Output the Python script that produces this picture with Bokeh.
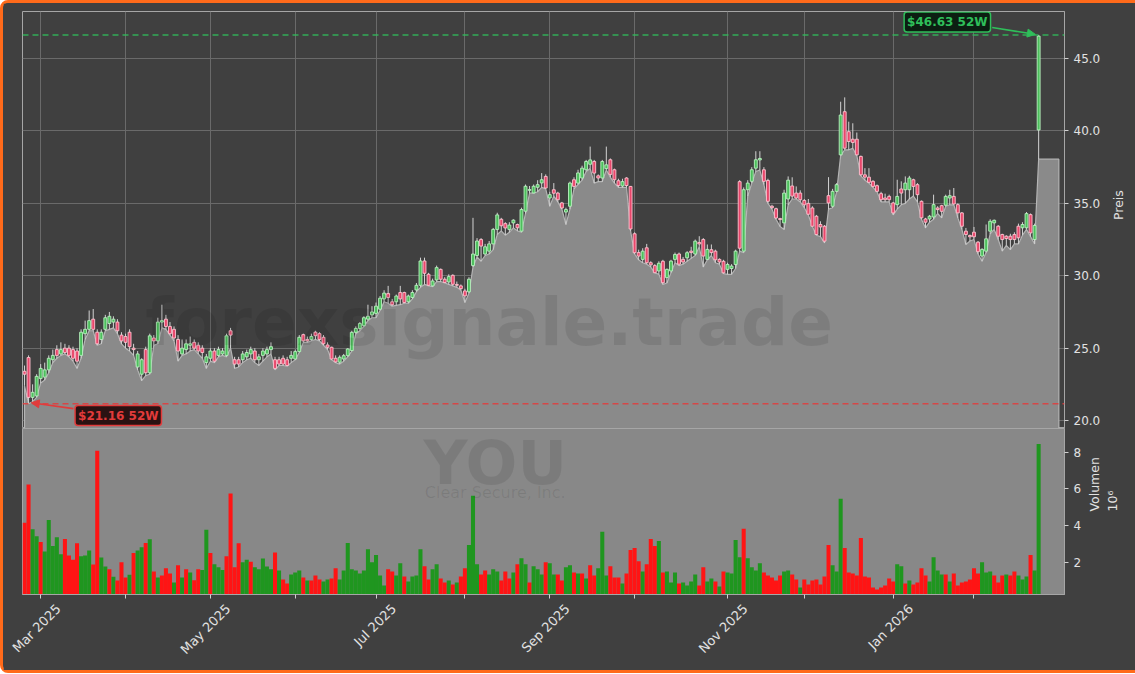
import math
import pandas as pd
from bokeh.plotting import figure
from bokeh.layouts import column
from bokeh.models import (Range1d, FixedTicker, Grid, Span, Label, Arrow, NormalHead, LinearAxis,
                          ColumnDataSource, CustomJSTickFormatter)
from bokeh.embed import file_html
from bokeh.resources import INLINE

# ---------------- data ----------------
opens = [23.4, 24.35, 21.6, 21.7, 22.9, 23.0, 23.5, 24.2, 24.9, 24.6,
         25.0, 25.0, 24.9, 24.8, 24.5, 26.0, 26.3, 27.0, 26.1, 25.6,
         26.3, 26.7, 26.8, 26.8, 25.9, 25.8, 26.1, 25.0, 23.7, 23.2,
         24.9, 23.3, 25.7, 25.5, 26.8, 27.0, 26.5, 26.3, 25.6, 24.6,
         24.9, 25.2, 25.4, 25.2, 25.0, 24.0, 24.3, 24.8, 24.5, 24.6,
         24.5, 26.2, 24.2, 24.2, 24.2, 24.4, 24.6, 24.8, 24.2, 24.5,
         24.6, 24.9, 24.2, 24.2, 24.3, 24.2, 24.3, 24.25, 24.76, 25.93,
         25.6, 25.6, 26.1, 26.0, 25.75, 25.22, 25.06, 24.3, 24.03, 24.25,
         24.48, 24.83, 26.09, 26.36, 26.55, 27.0, 27.3, 27.4, 27.69, 28.4,
         28.77, 28.2, 28.2, 28.84, 28.84, 28.2, 28.5, 29.02, 29.34, 31.02,
         30.1, 29.3, 29.71, 30.44, 29.76, 29.57, 30.03, 29.4, 29.3, 28.95,
         28.89, 30.7, 31.4, 32.5, 31.5, 31.7, 32.2, 33.2, 33.9, 33.6,
         33.2, 33.65, 33.54, 33.08, 34.46, 35.9, 35.72, 36.11, 36.41, 36.86,
         35.37, 35.94, 35.71, 35.03, 34.4, 34.8, 36.63, 36.4, 36.75, 37.32,
         37.7, 37.89, 36.9, 36.75, 37.4, 38.01, 37.32, 36.56, 36.2, 36.75,
         36.17, 32.9, 31.6, 31.13, 31.93, 30.9, 30.7, 30.33, 31.0, 29.87,
         30.33, 31.13, 31.5, 31.13, 31.24, 31.7, 31.5, 32.3, 32.5, 31.13,
         31.8, 31.7, 31.13, 31.0, 30.44, 30.5, 30.78, 36.5, 31.7, 35.94,
         36.52, 37.43, 38.0, 37.32, 36.58, 34.8, 34.63, 33.95, 33.65, 35.3,
         36.2, 35.71, 35.71, 35.2, 35.0, 34.68, 34.11, 33.54, 33.42, 35.53,
         34.8, 35.83, 38.35, 41.33, 39.95, 39.43, 39.43, 38.24, 36.97, 36.81,
         36.52, 36.22, 35.67, 35.37, 35.48, 35.03, 34.91, 35.99, 35.94, 35.94,
         36.63, 36.29, 35.14, 33.92, 33.92, 34.06, 34.68, 34.84, 34.87, 35.37,
         35.48, 34.91, 34.34, 33.08, 32.78, 33.01, 32.32, 31.36, 31.7, 33.08,
         33.65, 33.42, 32.85, 32.73, 32.73, 32.85, 33.42, 33.31, 33.31, 34.22,
         32.5, 40.07]
highs = [23.8, 24.5, 22.5, 23.2, 23.9, 24.0, 24.5, 24.9, 25.2, 25.4,
         25.3, 25.2, 25.1, 25.0, 26.3, 26.9, 27.6, 27.7, 26.3, 26.3,
         27.3, 27.5, 27.2, 27.0, 26.1, 26.0, 26.3, 25.3, 24.8, 24.3,
         25.1, 26.0, 25.9, 27.1, 28.0, 27.3, 26.8, 26.5, 25.9, 25.6,
         25.6, 25.8, 25.6, 25.4, 25.2, 24.6, 25.0, 25.0, 25.1, 25.0,
         26.0, 26.4, 24.4, 24.4, 24.8, 24.9, 25.1, 25.0, 24.6, 25.0,
         25.1, 25.4, 24.4, 24.4, 24.5, 24.4, 24.8, 24.9, 25.9, 26.0,
         25.8, 26.0, 26.2, 26.1, 25.9, 25.4, 25.1, 24.5, 24.5, 24.6,
         25.0, 26.2, 26.5, 26.8, 27.2, 28.0, 27.9, 28.15, 28.6, 29.0,
         29.3, 28.4, 28.7, 29.3, 28.9, 28.7, 29.0, 29.5, 31.25, 31.25,
         30.2, 29.8, 30.7, 30.5, 29.9, 30.1, 30.1, 29.6, 29.4, 29.1,
         29.9, 34.0, 32.6, 32.6, 32.2, 32.4, 33.3, 34.35, 34.0, 33.7,
         33.7, 33.9, 33.6, 34.7, 36.3, 36.2, 36.3, 36.6, 37.09, 37.0,
         35.8, 36.4, 35.8, 35.1, 34.7, 36.5, 36.8, 37.32, 37.6, 38.0,
         38.92, 38.0, 37.0, 38.0, 38.92, 38.1, 37.4, 36.7, 36.7, 36.8,
         36.2, 33.0, 31.8, 31.9, 32.2, 31.0, 30.8, 31.0, 31.1, 30.5,
         31.1, 31.6, 31.6, 31.3, 31.7, 32.0, 32.5, 32.73, 32.6, 32.16,
         32.16, 31.8, 31.2, 31.1, 30.9, 30.8, 31.8, 36.6, 36.1, 36.6,
         37.5, 38.6, 38.6, 37.5, 36.7, 34.9, 34.7, 34.0, 35.94, 36.86,
         36.8, 36.17, 35.9, 35.3, 35.3, 34.8, 34.2, 33.76, 33.5, 36.81,
         36.0, 36.4, 42.02, 42.32, 40.64, 40.53, 39.89, 38.3, 37.43, 37.43,
         36.6, 36.3, 35.8, 35.67, 35.6, 35.1, 36.63, 36.52, 36.86, 36.9,
         36.7, 36.4, 35.2, 34.0, 34.2, 35.6, 34.8, 34.9, 35.6, 35.94,
         36.06, 35.0, 34.4, 33.3, 32.85, 33.37, 32.4, 31.9, 33.54, 33.9,
         33.88, 33.5, 32.9, 32.8, 32.9, 33.0, 33.6, 33.7, 34.4, 34.3,
         33.6, 46.63]
lows = [22.4, 21.16, 21.3, 21.6, 22.6, 22.8, 23.3, 24.0, 24.3, 24.5,
        24.6, 24.4, 24.1, 23.6, 24.3, 25.6, 26.2, 26.2, 25.2, 25.3,
        26.2, 26.3, 26.4, 26.0, 25.3, 25.0, 24.8, 24.5, 23.5, 22.75,
        23.1, 23.2, 25.2, 25.3, 26.4, 26.3, 25.9, 25.5, 24.1, 24.5,
        24.6, 24.8, 24.9, 24.6, 24.3, 23.6, 24.1, 24.0, 24.4, 24.5,
        24.4, 25.0, 23.6, 23.7, 24.0, 24.2, 24.3, 24.0, 23.8, 24.1,
        24.4, 24.6, 23.5, 23.8, 23.8, 23.75, 24.0, 24.2, 24.7, 25.4,
        25.4, 25.5, 25.6, 25.5, 25.2, 24.9, 24.2, 24.0, 23.9, 24.1,
        24.4, 24.8, 26.0, 26.2, 26.5, 26.9, 27.1, 27.1, 27.6, 28.2,
        28.1, 27.9, 27.95, 28.0, 28.1, 28.1, 28.4, 28.9, 29.2, 29.4,
        29.3, 29.25, 29.6, 29.6, 29.5, 29.4, 29.3, 29.2, 29.0, 28.15,
        28.8, 30.6, 31.3, 31.0, 31.4, 31.5, 31.8, 32.85, 33.1, 32.8,
        33.0, 33.3, 33.1, 33.0, 34.3, 35.7, 35.7, 35.8, 36.1, 36.0,
        34.8, 35.5, 35.1, 34.6, 33.54, 34.6, 36.0, 36.3, 36.6, 37.2,
        37.4, 36.4, 36.5, 36.5, 37.3, 36.8, 36.4, 36.1, 36.1, 36.1,
        33.1, 31.5, 31.1, 30.9, 30.8, 30.6, 30.2, 30.1, 29.4, 29.5,
        30.2, 30.9, 30.7, 30.8, 31.0, 31.2, 31.4, 32.0, 30.6, 31.1,
        31.4, 30.9, 30.8, 30.15, 30.1, 30.1, 30.5, 31.7, 31.6, 35.5,
        36.4, 37.2, 37.3, 36.3, 35.0, 34.6, 33.9, 33.4, 33.19, 34.9,
        35.3, 35.3, 35.1, 34.7, 34.2, 33.4, 32.8, 32.7, 32.27, 34.6,
        34.7, 35.8, 38.3, 38.7, 38.7, 38.8, 38.3, 36.9, 36.6, 36.4,
        36.1, 35.8, 35.1, 35.1, 35.1, 34.2, 34.6, 34.9, 35.0, 35.3,
        35.5, 35.1, 33.9, 33.3, 33.7, 33.9, 34.3, 34.0, 34.8, 34.9,
        34.9, 34.0, 33.2, 32.16, 32.4, 32.5, 31.5, 31.0, 31.6, 32.9,
        33.2, 32.5, 31.7, 32.1, 31.8, 32.2, 32.2, 32.8, 33.2, 32.7,
        32.2, 38.05]
closes = [23.2, 21.6, 21.95, 23.05, 23.6, 23.5, 24.3, 24.5, 24.5, 24.9,
          24.7, 24.5, 24.3, 24.1, 26.1, 26.3, 26.9, 26.3, 25.3, 26.1,
          27.1, 27.2, 27.0, 26.2, 25.5, 25.4, 25.1, 24.9, 24.6, 24.2,
          23.3, 25.85, 25.5, 26.8, 26.9, 26.5, 26.0, 25.7, 24.8, 25.0,
          25.3, 25.3, 25.0, 24.8, 24.7, 24.4, 24.8, 24.1, 24.9, 24.8,
          25.85, 25.9, 23.9, 23.9, 24.6, 24.7, 24.9, 24.2, 24.4, 24.8,
          24.9, 25.1, 23.6, 23.9, 23.9, 23.8, 24.5, 24.76, 25.75, 25.5,
          25.5, 25.8, 25.86, 25.6, 25.3, 25.06, 24.25, 24.05, 24.37, 24.48,
          24.94, 26.09, 26.36, 26.7, 27.1, 27.2, 27.5, 27.9, 28.45, 28.8,
          28.5, 28.0, 28.6, 28.4, 28.15, 28.6, 28.84, 29.34, 31.02, 30.17,
          29.34, 29.64, 30.56, 29.76, 29.53, 29.94, 29.41, 29.34, 29.11, 28.61,
          29.76, 31.5, 32.4, 32.05, 32.0, 32.2, 33.2, 34.2, 33.45, 33.3,
          33.5, 33.84, 33.31, 34.57, 36.18, 35.95, 36.18, 36.29, 36.63, 36.06,
          35.6, 35.7, 35.25, 34.68, 34.57, 36.4, 36.17, 37.1, 37.43, 37.89,
          38.0, 37.09, 36.75, 37.89, 37.66, 37.0, 36.63, 36.23, 36.5, 36.23,
          33.23, 31.59, 31.36, 31.7, 30.9, 30.75, 30.21, 30.86, 29.52, 30.44,
          31.01, 31.47, 30.8, 30.95, 31.59, 31.6, 32.39, 32.2, 31.36, 31.82,
          31.6, 31.1, 30.95, 30.2, 30.78, 30.67, 31.7, 31.9, 35.94, 36.4,
          37.32, 38.01, 38.1, 36.52, 35.14, 34.7, 33.99, 33.88, 35.71, 36.6,
          35.5, 35.37, 35.25, 34.9, 34.25, 33.42, 32.85, 33.37, 32.39, 35.03,
          35.83, 36.29, 41.1, 38.81, 39.27, 39.2, 38.35, 36.97, 36.81, 36.45,
          36.17, 35.83, 35.25, 35.25, 35.25, 34.34, 35.48, 35.71, 36.4, 36.75,
          36.17, 35.6, 34.0, 33.7, 34.11, 34.91, 34.57, 34.45, 35.48, 35.53,
          34.96, 34.34, 33.42, 32.85, 32.69, 32.69, 31.66, 31.82, 32.55, 33.76,
          33.83, 32.73, 32.5, 32.57, 32.5, 32.5, 32.62, 33.54, 34.29, 32.96,
          33.47, 46.55]
volume_m = [4.15, 6.24, 3.80, 3.42, 3.10, 2.59, 4.30, 2.88, 3.36, 2.44,
            3.27, 2.37, 2.14, 3.03, 2.33, 2.37, 2.64, 1.87, 8.08, 2.26,
            1.76, 1.61, 1.21, 1.00, 2.00, 1.17, 1.32, 2.50, 2.64, 2.81,
            3.05, 3.25, 1.50, 1.17, 1.28, 1.67, 1.39, 0.89, 1.83, 1.17,
            1.61, 1.44, 1.02, 1.61, 1.57, 3.77, 2.50, 1.89, 1.72, 1.57,
            2.33, 5.74, 1.72, 3.03, 2.00, 2.14, 2.03, 1.72, 1.61, 2.20,
            1.76, 1.61, 2.53, 1.55, 1.06, 0.84, 1.33, 1.44, 1.55, 1.17,
            1.00, 1.00, 1.28, 1.06, 0.95, 1.06, 1.11, 1.67, 1.06, 1.55,
            3.05, 1.61, 1.55, 1.39, 1.55, 2.71, 2.00, 2.39, 1.28, 0.73,
            1.61, 1.50, 1.28, 1.94, 1.22, 0.95, 1.22, 1.28, 2.71, 1.78,
            1.06, 1.61, 1.89, 1.11, 0.89, 1.00, 0.78, 0.89, 1.22, 1.67,
            2.94, 5.63, 1.89, 1.33, 1.55, 1.33, 1.61, 1.50, 1.00, 1.50,
            1.11, 1.44, 1.89, 2.22, 1.89, 0.89, 1.78, 1.61, 1.33, 2.00,
            1.94, 1.33, 1.33, 1.00, 1.72, 1.83, 1.44, 1.39, 1.39, 1.11,
            1.83, 1.28, 1.67, 3.66, 1.28, 1.78, 1.17, 1.17, 0.84, 1.39,
            2.66, 2.77, 2.05, 1.50, 1.89, 3.27, 2.88, 3.16, 1.44, 1.50,
            0.89, 1.44, 0.84, 0.89, 0.73, 0.95, 1.33, 0.73, 1.72, 0.95,
            1.11, 0.95, 0.67, 1.50, 1.44, 1.39, 3.21, 2.27, 3.82, 2.22,
            1.72, 1.55, 1.94, 1.44, 1.28, 1.17, 1.00, 1.28, 1.50, 1.55,
            1.33, 1.06, 0.62, 1.06, 0.78, 1.00, 1.06, 0.78, 1.22, 2.94,
            1.83, 1.50, 5.46, 2.77, 1.44, 1.39, 1.28, 3.32, 1.22, 1.17,
            0.62, 0.51, 0.62, 0.73, 1.11, 0.95, 1.89, 1.78, 0.84, 1.00,
            0.78, 0.89, 1.67, 1.28, 0.95, 2.27, 1.55, 1.33, 1.33, 0.95,
            1.39, 0.73, 0.89, 0.95, 1.06, 1.67, 1.39, 2.00, 1.44, 1.50,
            1.28, 0.89, 1.28, 1.33, 1.28, 1.50, 1.28, 1.06, 1.22, 2.39,
            1.55, 8.45]
volume_dir = list(
    "rrggrggggg" "rrrrgggrrg" "grgrrrgrgg" "rgrgrrrgrg" "rgrrggrggg"
    "rrrrggrggg" "ggrgrrgggr" "grrrggrrgg" "gggggggggg" "rrggrggggr"
    "rggrrgrgrr" "gggrrgggrr" "rgrggrgggr"
    "ggrrggrgrg" "rrgggrrrgr" "rrrgrrrgrg" "ggrggggrrg"
    "grgrggggrg" "gggrrrrrgg" "rrgrrrrrrr" "gggrrrrrrr"
    "rrrrrrggrg" "rrrrggggrg" "rrrrrrrggg" "rrrgrrgggr" "gg")
price_ticks = [20.0, 25.0, 30.0, 35.0, 40.0, 45.0]
volume_ticks_m = [2, 4, 6, 8]
label_months = [3, 5, 7, 9, 11, 1]
holidays = ["2025-04-18", "2025-05-26", "2025-06-19", "2025-07-04", "2025-09-01",
            "2025-11-27", "2025-12-25", "2026-01-01", "2026-01-19", "2026-02-16"]
company = "Clear Secure, Inc."
ticker_sym = "YOU"
watermark = "forexsignale.trade"

# ---------------- derived ----------------
n = len(closes)
dates = pd.bdate_range("2025-02-25", "2026-02-25", freq="C", holidays=holidays)[:n]
idx = list(range(n))
highs = [max(h, o, c) for h, o, c in zip(highs, opens, closes)]
lows = [min(l, o, c) for l, o, c in zip(lows, opens, closes)]
month_idx = [i for i in range(1, n) if dates[i].month != dates[i - 1].month]
lab_idx = [i for i in month_idx if dates[i].month in label_months]
lab_txt = [dates[i].strftime("%b %Y") for i in lab_idx]
LABEL_SHIFT = 4.4   # centres the rotated label on its tick (layout)

BG = "#404040"
FONT = "DejaVu Sans"
TXT = "#e2e2e2"
BULL_FILL, BULL_LINE = "#4cbf5c", "#b9f2c0"
BEAR_FILL, BEAR_LINE = "#e8476b", "#ffc2cf"

up = [c >= o for o, c in zip(opens, closes)]
src = ColumnDataSource(dict(
    x=idx, o=opens, h=highs, l=lows, c=closes,
    top=[max(o, c) for o, c in zip(opens, closes)],
    bot=[min(o, c) for o, c in zip(opens, closes)],
    fill=[BULL_FILL if u else BEAR_FILL for u in up],
    line=[BULL_LINE if u else BEAR_LINE for u in up],
))
vsrc = ColumnDataSource(dict(
    x=idx, v=[v * 1e6 for v in volume_m],
    col=["#1f961f" if d == "g" else "#ff1414" for d in volume_dir[:n]],
))

xr = Range1d(-0.5, n + 5.4)
FW = 1042
ML, MR = 19, 67

# ---------------- price panel ----------------
p1 = figure(frame_width=FW, frame_height=417, x_range=xr, y_range=Range1d(19.45, 48.25),
            y_axis_location="right", x_axis_location=None, toolbar_location=None,
            output_backend="svg", background_fill_color=BG, border_fill_color=BG,
            min_border_left=ML, min_border_right=MR, min_border_top=8, min_border_bottom=0,
            outline_line_color="#a6a6a6")
p1.xgrid.visible = False
p1.ygrid.grid_line_color = "#6a6a6a"
p1.ygrid.ticker = FixedTicker(ticks=price_ticks)
p1.add_layout(Grid(dimension=0, ticker=FixedTicker(ticks=month_idx), grid_line_color="#6a6a6a"))

ybot = 0.0
ext = n - 1 + 5
px = [0] + idx + [ext, ext, 0]
py = [ybot] + lows + [lows[-1], ybot, ybot]
p1.patch(px, py, fill_color="#8a8a8a", line_color="#b4b4b4", line_width=1.2)

p1.segment(x0="x", y0="l", x1="x", y1="h", source=src, line_color="#d2d2d2", line_width=1)
p1.vbar(x="x", width=0.72, top="top", bottom="bot", source=src,
        fill_color="fill", line_color="line", line_width=0.9)

hi = max(highs)
lo = min(lows)
hi_i = highs.index(hi)
lo_i = lows.index(lo)
GREEN = "#2fbf5a"
RED = "#e23b3b"
p1.add_layout(Span(location=hi, dimension="width", line_color=GREEN, line_dash="6 4",
                   line_width=1.5, line_alpha=0.85))
p1.add_layout(Span(location=lo, dimension="width", line_color=RED, line_dash="6 4",
                   line_width=1.5, line_alpha=0.85))

p1.add_layout(Label(x=(n - 1) / 2 - 10.5, y=26.8, text=watermark, text_font=FONT,
                    text_font_size="66px", text_font_style="bold", text_color="black",
                    text_alpha=0.09, text_align="center", text_baseline="middle"))

p1.add_layout(Arrow(x_start=hi_i - 11.5, y_start=hi + 0.52, x_end=hi_i - 0.8, y_end=hi + 0.04,
                    line_color=GREEN, line_width=1.6,
                    end=NormalHead(size=8, fill_color=GREEN, line_color=GREEN)))
p1.add_layout(Label(x=hi_i - 22.6, y=hi + 0.9, text=f"${hi:.2f} 52W", text_font=FONT,
                    text_font_size="12px", text_font_style="bold", text_color=GREEN,
                    text_align="center", text_baseline="middle",
                    background_fill_color="#0c1f12", border_line_color=GREEN,
                    border_line_width=1.5, padding=3, border_radius=3))
p1.add_layout(Arrow(x_start=lo_i + 11.1, y_start=lo - 0.34, x_end=lo_i + 0.66, y_end=lo + 0.07,
                    line_color=RED, line_width=1.6,
                    end=NormalHead(size=8, fill_color=RED, line_color=RED)))
p1.add_layout(Label(x=lo_i + 22.2, y=lo - 0.82, text=f"${lo:.2f} 52W", text_font=FONT,
                    text_font_size="12px", text_font_style="bold", text_color=RED,
                    text_align="center", text_baseline="middle",
                    background_fill_color="#2a1212", border_line_color=RED,
                    border_line_width=1.5, padding=3, border_radius=3))

ya = p1.yaxis[0]
ya.ticker = FixedTicker(ticks=price_ticks)
ya.formatter = CustomJSTickFormatter(code="return tick.toFixed(1);")
ya.axis_label = "Preis"

# ---------------- volume panel ----------------
p2 = figure(frame_width=FW, frame_height=166, x_range=xr, y_range=Range1d(0.24e6, 9.29e6),
            y_axis_location="right", toolbar_location=None, output_backend="svg",
            background_fill_color="#888888", border_fill_color=BG,
            min_border_left=ML, min_border_right=MR, min_border_top=0, min_border_bottom=76,
            outline_line_color="#a6a6a6")
p2.grid.visible = False
p2.vbar(x="x", width=1.0, top="v", bottom=0, source=vsrc, fill_color="col", line_color=None)

p2.add_layout(Label(x=(n - 1) / 2 - 9.0, y=7.44e6, text=ticker_sym, text_font=FONT,
                    text_font_size="61px", text_font_style="bold", text_color="black",
                    text_alpha=0.09, text_align="center", text_baseline="middle"))
p2.add_layout(Label(x=(n - 1) / 2 - 9.0, y=5.80e6, text=company, text_font=FONT,
                    text_font_size="16px", text_color="black",
                    text_alpha=0.09, text_align="center", text_baseline="middle"))

vy = p2.yaxis[0]
vy.ticker = FixedTicker(ticks=[t * 1e6 for t in volume_ticks_m])
vy.formatter = CustomJSTickFormatter(code="return (tick/1e6).toFixed(0);")
vy.axis_label = "Volumen\n10\u2076"

# tick marks at every month start (no labels)
vx = p2.xaxis[0]
vx.ticker = FixedTicker(ticks=month_idx)
vx.formatter = CustomJSTickFormatter(code="return '';")
vx.major_label_standoff = 0
vx.major_label_text_font_size = "0px"

# rotated month labels, centred on their ticks
lab_pos = [i + LABEL_SHIFT for i in lab_idx]
vx2 = LinearAxis(ticker=FixedTicker(ticks=lab_pos),
                 formatter=CustomJSTickFormatter(
                     args=dict(t=lab_pos, names=lab_txt),
                     code="for (let k = 0; k < t.length; k++) { if (Math.abs(t[k] - tick) < 0.5) return names[k]; } return '';"),
                 major_label_orientation=math.pi / 4, axis_line_color=None,
                 major_tick_line_color=None, minor_tick_line_color=None,
                 major_label_standoff=2, major_label_text_color=TXT,
                 major_label_text_font=FONT, major_label_text_font_size="13px")
p2.add_layout(vx2, "below")

for ax in [ya, vy, vx]:
    ax.axis_line_color = "#a6a6a6"
    ax.major_tick_line_color = "#d0d0d0"
    ax.major_tick_out = 4
    ax.major_tick_in = 0
    ax.minor_tick_line_color = None
    ax.major_label_text_color = TXT
    ax.major_label_text_font = FONT
    ax.axis_label_text_color = TXT
    ax.axis_label_text_font = FONT
    ax.axis_label_text_font_size = "12.5px"
    ax.axis_label_text_font_style = "normal"
    ax.axis_label_standoff = 8
ya.major_label_text_font_size = "12px"
vy.major_label_text_font_size = "12px"
ya.axis_label_standoff = 15
vy.axis_label_standoff = 19
for ax in [ya, vy]:
    try:
        ax.axis_label_orientation = math.pi / 2
    except AttributeError:
        pass

layout = column(p1, p2, spacing=0,
                styles={"border": "3px solid #ff6a1a", "border-radius": "8px",
                        "background-color": BG})

open("out.html", "w").write(file_html(layout, INLINE))
